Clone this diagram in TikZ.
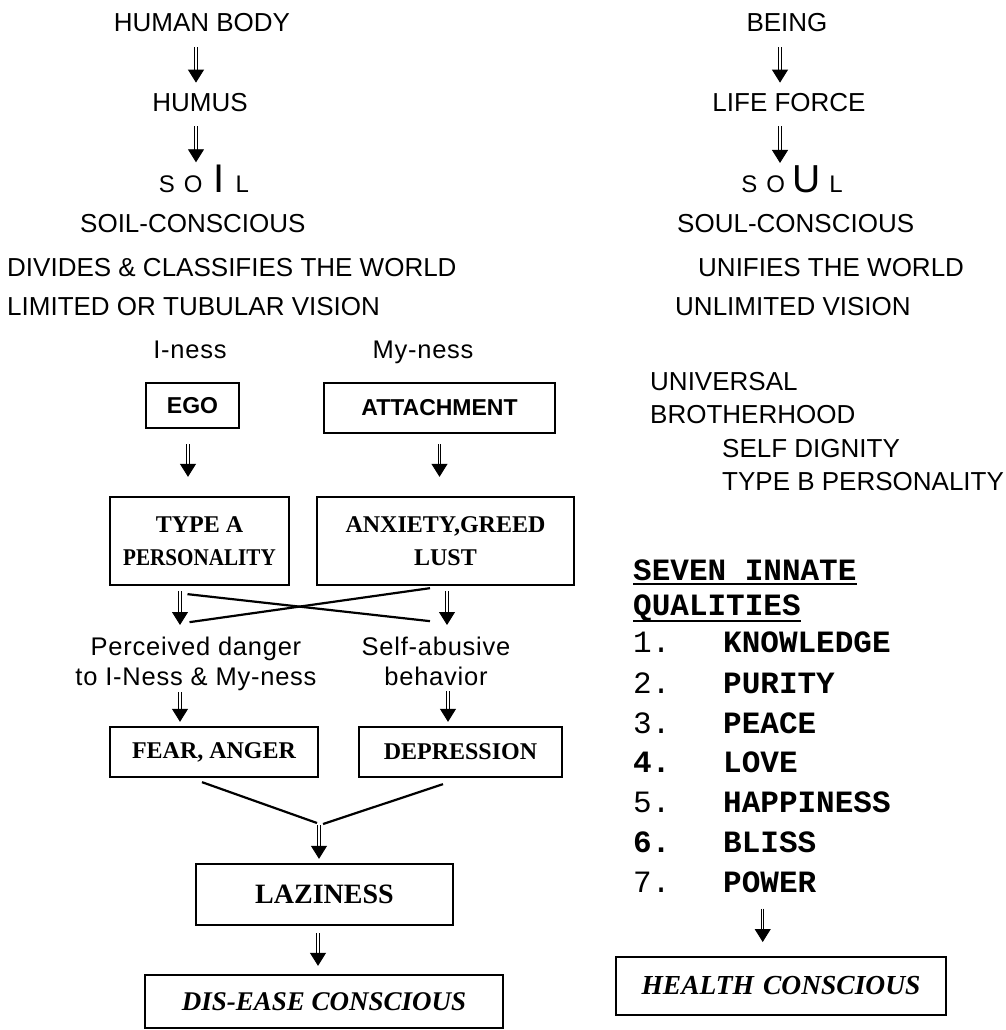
\documentclass[tikz,border=0pt]{standalone}
\usepackage{fontspec}
\usepackage{graphicx}
\setmainfont{Liberation Serif}
\setsansfont{Liberation Sans}
\setmonofont{Liberation Mono}
\usetikzlibrary{arrows.meta}

\begin{document}
\begin{tikzpicture}[
    x=1pt, y=-1pt,
    txt/.style={font=\sffamily\fontsize{26}{30}\selectfont, inner sep=0pt, anchor=base},
    sp/.style={font=\sffamily\fontsize{25.5}{30}\selectfont\addfontfeatures{LetterSpace=3}, inner sep=0pt, align=center},
    blk/.style={draw, line width=2.3pt, align=center, inner sep=0pt, font=\bfseries\fontsize{24}{33}\selectfont},
    sblk/.style={blk, font=\sffamily\bfseries\fontsize{23}{28}\selectfont},
    qty/.style={font=\ttfamily\bfseries\fontsize{31}{31}\selectfont, inner sep=0pt, anchor=base west},
    num/.style={qty, font=\ttfamily\fontsize{31}{31}\selectfont},
    dar/.style={double, double distance=1.4pt, line width=0.9pt, -{Triangle[width=16pt,length=13pt]}},
    xln/.style={line width=2.2pt}
]
\useasboundingbox (0,0) rectangle (1005,1030);

\node[txt] (body) at (202,32) {HUMAN BODY};
\node[txt] (humus) at (200,112) {HUMUS};
\node[txt] (soil) at (204,192) {\fontsize{24}{24}\selectfont S\hspace{9pt}O\hspace{11pt}{\fontsize{40}{40}\selectfont I}\hspace{11pt}L};
\node[txt, anchor=base west] (soilc) at (80,232) {SOIL-CONSCIOUS};
\node[txt, anchor=base west] (divides) at (7,276) {DIVIDES \& CLASSIFIES THE WORLD};
\node[txt, anchor=base west] (limited) at (7,315) {LIMITED OR TUBULAR VISION};

\node[txt] (being) at (787,32) {BEING};
\node[txt] (life) at (789,112) {LIFE FORCE};
\node[txt] (soul) at (792,192) {\fontsize{24}{24}\selectfont S\hspace{9pt}O\hspace{7pt}{\fontsize{39}{39}\selectfont U}\hspace{9pt}L};
\node[txt, anchor=base west] (soulc) at (677,232) {SOUL-CONSCIOUS};
\node[txt, anchor=base west] (unifies) at (698,276) {UNIFIES THE WORLD};
\node[txt, anchor=base west] (unlim) at (675,315) {UNLIMITED VISION};

\node[txt, anchor=base west] (univ) at (650,390) {UNIVERSAL};
\node[txt, anchor=base west] (broth) at (650,423) {BROTHERHOOD};
\node[txt, anchor=base west] (dignity) at (722,457) {SELF DIGNITY};
\node[txt, anchor=base west] (typeb) at (722,490) {TYPE B PERSONALITY};

\node[sp, anchor=base] (iness) at (190,358) {I-ness};
\node[sp, anchor=base] (myness) at (423,358) {My-ness};

\node[sblk, minimum width=93pt, minimum height=45pt] (ego) at (192.5,405.5) {EGO};
\node[sblk, minimum width=231pt, minimum height=50pt] (attach) at (439.5,408) {ATTACHMENT};
\node[blk, minimum width=179pt, minimum height=88pt] (typea) at (199.5,541) {TYPE A\\\scalebox{0.88}[1]{PERSONALITY}};
\node[blk, minimum width=257pt, minimum height=88pt] (anx) at (445.5,541) {ANXIETY,GREED\\LUST};

\node[sp, anchor=north] (danger) at (196,637) {Perceived danger\\to I-Ness \& My-ness};
\node[sp, anchor=north] (selfab) at (436,637) {Self-abusive\\behavior};

\node[blk, minimum width=208pt, minimum height=50pt] (fear) at (214,752) {FEAR, ANGER};
\node[blk, minimum width=203pt, minimum height=50pt] (dep) at (460.5,752) {DEPRESSION};
\node[blk, minimum width=257pt, minimum height=61pt, font=\bfseries\fontsize{28}{30}\selectfont] (lazy) at (324.5,894.5) {LAZINESS};
\node[blk, minimum width=358pt, minimum height=53pt, font=\bfseries\itshape\fontsize{27}{30}\selectfont] (dis) at (324,1001.5) {DIS-EASE CONSCIOUS};
\coordinate (vjoin) at (319,823);

\node[qty] (seven) at (633,580) {SEVEN INNATE};
\node[qty] (quals) at (633,615) {QUALITIES};
\node[num] (n1) at (633,652) {1.};
\node[num] (n2) at (633,693) {2.};
\node[num] (n3) at (633,733) {3.};
\node[qty] (n4) at (633,772) {4.};
\node[num] (n5) at (633,812) {5.};
\node[qty] (n6) at (633,852) {6.};
\node[num] (n7) at (633,892) {7.};
\node[qty] (q1) at (723,652) {KNOWLEDGE};
\node[qty] (q2) at (723,693) {PURITY};
\node[qty] (q3) at (723,733) {PEACE};
\node[qty] (q4) at (723,772) {LOVE};
\node[qty] (q5) at (723,812) {HAPPINESS};
\node[qty] (q6) at (723,852) {BLISS};
\node[qty] (q7) at (723,892) {POWER};
\node[blk, minimum width=330pt, minimum height=58pt, line width=2pt, font=\bfseries\itshape\fontsize{27.5}{30}\selectfont] (health) at (781,986) {HEALTH\hspace{9pt}CONSCIOUS};

\draw[line width=1.6pt] ([yshift=-4pt]seven.base west) -- ([yshift=-4pt]seven.base east);
\draw[line width=1.6pt] ([yshift=-6pt]quals.base west) -- ([yshift=-6pt]quals.base east);

\draw[dar, shorten <=15pt, shorten >=11pt] ([xshift=-6pt]body.south) -- ([xshift=-6pt]body.south |- humus.north);
\draw[dar, shorten <=14pt, shorten >=2pt] ([xshift=-4pt]humus.south) -- ([xshift=-4pt]humus.south |- soil.north);
\draw[dar, shorten <=15pt, shorten >=11pt] ([xshift=-7pt]being.south) -- ([xshift=-7pt]being.south |- life.north);
\draw[dar, shorten <=14pt, shorten >=2pt] ([xshift=-9pt]life.south) -- ([xshift=-9pt]life.south |- soul.north);
\draw[dar, shorten <=15pt, shorten >=19pt] ([xshift=-4.5pt]ego.south) -- ([xshift=-4.5pt]ego.south |- typea.north);
\draw[dar, shorten <=10pt, shorten >=19pt] (attach.south) -- (attach.south |- anx.north);
\draw[dar, shorten <=5pt, shorten >=12pt] ([xshift=-19.5pt]typea.south) -- ([xshift=-19.5pt]typea.south |- danger.north);
\draw[dar, shorten <=5pt, shorten >=12pt] ([xshift=1.5pt]anx.south) -- ([xshift=1.5pt]anx.south |- selfab.north);
\draw[xln] ([xshift=-12pt,yshift=-8pt]typea.south) -- ([xshift=-15.5pt,yshift=-35pt]anx.south);
\draw[xln] ([xshift=-10pt,yshift=-36pt]typea.south) -- ([xshift=-15.5pt,yshift=-2pt]anx.south);
\draw[dar, shorten <=1pt, shorten >=4pt] ([xshift=-16pt]danger.south) -- ([xshift=-16pt]danger.south |- fear.north);
\draw[dar, shorten <=5pt, shorten >=4pt] ([xshift=12pt]selfab.south) -- ([xshift=12pt]selfab.south |- dep.north);
\draw[xln] ([xshift=-12pt,yshift=-4pt]fear.south) -- ([xshift=-2pt]vjoin);
\draw[xln] ([xshift=-17.5pt,yshift=-6pt]dep.south) -- ([xshift=4pt,yshift=-1pt]vjoin);
\draw[dar, shorten <=2pt, shorten >=4pt] (vjoin) -- (vjoin |- lazy.north);
\draw[dar, shorten <=7pt, shorten >=8pt] ([xshift=-6.5pt]lazy.south) -- ([xshift=-6.5pt]lazy.south |- dis.north);
\draw[dar, shorten <=16pt, shorten >=14pt] ([xshift=-7pt]q7.south) -- ([xshift=-7pt]q7.south |- health.north);
\end{tikzpicture}
\end{document}
